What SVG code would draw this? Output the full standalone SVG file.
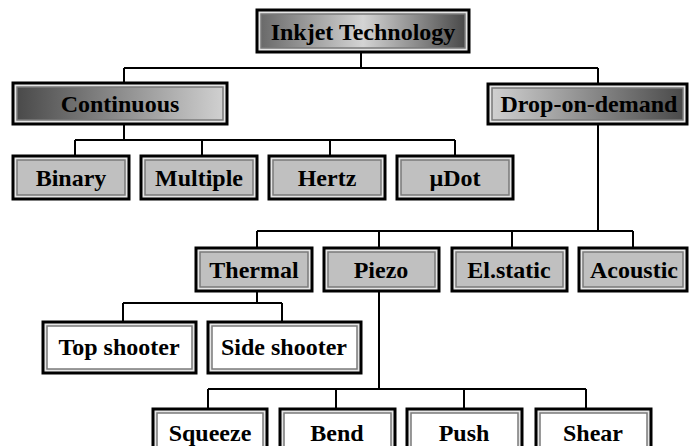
<svg xmlns="http://www.w3.org/2000/svg" width="689" height="446" viewBox="0 0 689 446">
<defs>
<linearGradient id="gTop" x1="0" y1="0" x2="1" y2="0">
<stop offset="0" stop-color="#6a6a6a"/>
<stop offset="0.5" stop-color="#d4d4d4"/>
<stop offset="1" stop-color="#4a4a4a"/>
</linearGradient>
<linearGradient id="gCont" x1="0" y1="0" x2="1" y2="0">
<stop offset="0" stop-color="#4a4a4a"/>
<stop offset="1" stop-color="#d0d0d0"/>
</linearGradient>
<linearGradient id="gDod" x1="0" y1="0" x2="1" y2="0">
<stop offset="0" stop-color="#d0d0d0"/>
<stop offset="1" stop-color="#4a4a4a"/>
</linearGradient>
</defs>
<style>
.outer{fill:#e6e6e6;stroke:#000;stroke-width:3}
.inner{stroke:#7a7a7a;stroke-width:1.5}
.gray{fill:#c0c0c0}
.white{fill:#ffffff}
.lbl{font-family:"Liberation Serif","Times New Roman",serif;font-weight:bold;font-size:24px;fill:#000;text-anchor:middle}
.conn{stroke:#000;stroke-width:2;fill:none}
</style>
<rect width="689" height="446" fill="#fff"/>
<g id="connectors">
<path class="conn" d="M361 53V68M124 68H598M124 68V82M598 68V83"/>
<path class="conn" d="M124 125V140M75 140H455M75 140V155M202 140V155M330 140V155M455 140V155"/>
<path class="conn" d="M598 125V231M257 231H633M257 231V247M379 231V247M512 231V247M633 231V247"/>
<path class="conn" d="M257 292V303M123 303H282M123 303V321M282 303V321"/>
<path class="conn" d="M379 292V389M208 389H586M208 389V408M336 389V408M464 389V408M586 389V408"/>
</g>
<g id="inkjet">
<rect class="outer" x="257" y="10" width="212" height="42"/>
<rect class="inner" fill="url(#gTop)" x="261" y="14" width="204" height="34"/>
<text class="lbl" x="363" y="40">Inkjet Technology</text>
</g>
<g id="continuous">
<rect class="outer" x="13" y="83" width="214" height="41"/>
<rect class="inner" fill="url(#gCont)" x="17" y="87" width="206" height="33"/>
<text class="lbl" x="120" y="112">Continuous</text>
</g>
<g id="dropondemand">
<rect class="outer" x="488" y="84" width="199" height="40"/>
<rect class="inner" fill="url(#gDod)" x="492" y="88" width="191" height="32"/>
<text class="lbl" x="589" y="112">Drop-on-demand</text>
</g>
<g id="binary">
<rect class="outer" x="13" y="156" width="116" height="43"/>
<rect class="inner gray" x="17" y="160" width="108" height="35"/>
<text class="lbl" x="71" y="186">Binary</text>
</g>
<g id="multiple">
<rect class="outer" x="141" y="156" width="116" height="43"/>
<rect class="inner gray" x="145" y="160" width="108" height="35"/>
<text class="lbl" x="199" y="186">Multiple</text>
</g>
<g id="hertz">
<rect class="outer" x="269" y="156" width="116" height="43"/>
<rect class="inner gray" x="273" y="160" width="108" height="35"/>
<text class="lbl" x="327" y="186">Hertz</text>
</g>
<g id="udot">
<rect class="outer" x="397" y="156" width="116" height="43"/>
<rect class="inner gray" x="401" y="160" width="108" height="35"/>
<text class="lbl" x="455" y="186">µDot</text>
</g>
<g id="thermal">
<rect class="outer" x="196" y="248" width="116" height="43"/>
<rect class="inner gray" x="200" y="252" width="108" height="35"/>
<text class="lbl" x="254" y="278">Thermal</text>
</g>
<g id="piezo">
<rect class="outer" x="324" y="248" width="115" height="43"/>
<rect class="inner gray" x="328" y="252" width="107" height="35"/>
<text class="lbl" x="381" y="278">Piezo</text>
</g>
<g id="elstatic">
<rect class="outer" x="452" y="248" width="115" height="43"/>
<rect class="inner gray" x="456" y="252" width="107" height="35"/>
<text class="lbl" x="509" y="278">El.static</text>
</g>
<g id="acoustic">
<rect class="outer" x="579" y="248" width="108" height="43"/>
<rect class="inner gray" x="583" y="252" width="100" height="35"/>
<text class="lbl" x="634" y="278">Acoustic</text>
</g>
<g id="topshooter">
<rect class="outer" x="43" y="322" width="153" height="51"/>
<rect class="inner white" x="47" y="326" width="145" height="43"/>
<text class="lbl" x="119" y="355">Top shooter</text>
</g>
<g id="sideshooter">
<rect class="outer" x="208" y="322" width="153" height="51"/>
<rect class="inner white" x="212" y="326" width="145" height="43"/>
<text class="lbl" x="284" y="355">Side shooter</text>
</g>
<g id="squeeze">
<rect class="outer" x="153" y="409" width="114" height="45"/>
<rect class="inner white" x="157" y="413" width="106" height="40"/>
<text class="lbl" x="210" y="441">Squeeze</text>
</g>
<g id="bend">
<rect class="outer" x="280" y="409" width="115" height="45"/>
<rect class="inner white" x="284" y="413" width="107" height="40"/>
<text class="lbl" x="337" y="441">Bend</text>
</g>
<g id="push">
<rect class="outer" x="407" y="409" width="115" height="45"/>
<rect class="inner white" x="411" y="413" width="107" height="40"/>
<text class="lbl" x="464" y="441">Push</text>
</g>
<g id="shear">
<rect class="outer" x="536" y="409" width="115" height="45"/>
<rect class="inner white" x="540" y="413" width="107" height="40"/>
<text class="lbl" x="593" y="441">Shear</text>
</g>
</svg>
